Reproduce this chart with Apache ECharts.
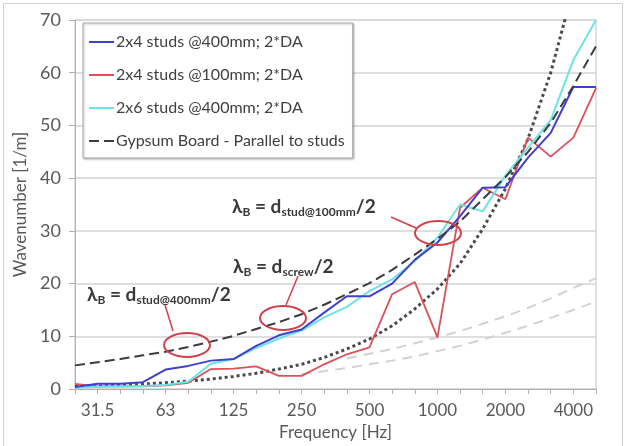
<!DOCTYPE html>
<html>
<head>
<meta charset="utf-8">
<script src="https://cdn.jsdelivr.net/npm/echarts@6/dist/echarts.min.js"></script>
<style>
  html, body { margin: 0; padding: 0; background: #fff; }
  #chart { width: 627px; height: 446px; }
</style>
</head>
<body>
<div id="chart"></div>
<script>
// 1/3 octave bands
var freqs = ['25', '31.5', '40', '50', '63', '80', '100', '125', '160', '200', '250', '315',
  '400', '500', '630', '800', '1000', '1250', '1600', '2000', '2500', '3150', '4000', '5000']
var yTicks = [0, 10, 20, 30, 40, 50, 60, 70]

var studs2x4At400 = [0.4, 1.0, 1.0, 1.3, 3.7, 4.4, 5.4, 5.7, 8.2, 10.2, 11.3, 14.5,
  17.6, 17.6, 20.0, 24.5, 27.8, 32.8, 38.2, 38.3, 43.9, 48.6, 57.3, 57.3]
var studs2x4At100 = [1.0, 0.5, 0.5, 0.5, 0.7, 1.2, 3.8, 3.9, 4.3, 2.5, 2.5, 4.7,
  6.6, 7.9, 18.0, 20.3, 9.8, 34.4, 38.2, 36.0, 47.7, 44.1, 47.7, 57.1]
var studs2x6At400 = [0.3, 0.4, 0.5, 0.6, 0.8, 1.4, 4.8, 5.7, 7.8, 9.6, 11.1, 13.6,
  15.6, 18.6, 20.8, 24.3, 28.7, 35.0, 33.7, 40.5, 45.8, 51.0, 62.4, 70.0]
var gypsumParallel = [4.5, 5.1, 5.7, 6.4, 7.1, 8.0, 9.0, 10.1, 11.4, 12.7, 14.2, 16.0,
  18.0, 20.1, 22.6, 25.5, 28.5, 31.8, 36.0, 40.2, 45.0, 50.5, 57.5, 65.0]
var screwLine = [0.5, 0.6, 0.75, 0.95, 1.2, 1.5, 1.9, 2.4, 3.0, 3.8, 4.7, 6.0,
  7.6, 9.5, 12.0, 15.2, 19.0, 23.8, 30.4, 38.0, 47.5, 60.0, 76.0, 95.0]
var grayUpper = [null, null, null, null, null, null, null, null, null, null, null, null,
  5.8, 6.7, 7.6, 8.7, 9.8, 11.0, 12.4, 13.8, 15.4, 17.2, 19.2, 21.0]
var grayLower = [null, null, null, null, null, null, null, null, null, null, 2.8, 3.4,
  4.0, 4.7, 5.4, 6.2, 7.2, 8.2, 9.4, 10.7, 12.0, 13.5, 15.0, 16.6]

var labelFreqs = ['31.5', '63', '125', '250', '500', '1000', '2000', '4000']

var font = 'Lato, "Open Sans", sans-serif'
var annRed = '#d0404a'
var annRich = {
  m: { fontSize: 19, fontWeight: 'bold', fontFamily: font, fill: '#3a3a3a', lineHeight: 22 },
  s: { fontSize: 12, fontWeight: 'bold', fontFamily: font, fill: '#3a3a3a', lineHeight: 12, verticalAlign: 'bottom' }
}

function annText(x, y, sub) {
  return {
    type: 'text',
    x: x,
    y: y,
    z: 100,
    style: {
      text: '{m|λ}{s|B}{m| = d}{s|' + sub + '}{m|/2}',
      rich: annRich,
      verticalAlign: 'middle'
    }
  }
}

function ellipse(cx, cy) {
  return {
    type: 'ellipse',
    z: 100,
    shape: { cx: cx, cy: cy, rx: 23, ry: 12 },
    style: { fill: 'none', stroke: annRed, lineWidth: 2 }
  }
}

function pointer(x1, y1, x2, y2) {
  return {
    type: 'line',
    z: 100,
    shape: { x1: x1, y1: y1, x2: x2, y2: y2 },
    style: { stroke: annRed, lineWidth: 1.5 }
  }
}

function lineSeries(name, data, color, width, type) {
  return {
    name: name,
    type: 'line',
    data: data,
    symbol: 'none',
    smooth: false,
    clip: true,
    lineStyle: { color: color, width: width, type: type || 'solid' },
    itemStyle: { color: color },
    animation: false
  }
}

var chart = echarts.init(document.getElementById('chart'))
chart.setOption({
  backgroundColor: '#fff',
  textStyle: { fontFamily: font },
  grid: {
    left: 75,
    right: 31,
    top: 20,
    bottom: 56,
    show: true,
    borderColor: '#c4c4c4',
    borderWidth: 1
  },
  legend: {
    orient: 'vertical',
    left: 83,
    top: 23,
    padding: [10, 8, 8, 5],
    itemGap: 15,
    itemWidth: 25,
    itemHeight: 14,
    backgroundColor: '#fff',
    borderColor: '#a8a8a8',
    borderWidth: 1,
    shadowColor: 'rgba(0,0,0,0.25)',
    shadowBlur: 2,
    shadowOffsetX: 1,
    shadowOffsetY: 1,
    itemStyle: { opacity: 0 },
    textStyle: { fontSize: 16, color: '#404040', fontFamily: font, lineHeight: 18, padding: [0, 0, 0, -3] },
    data: ['2x4 studs @400mm; 2*DA', '2x4 studs @100mm; 2*DA', '2x6 studs @400mm; 2*DA',
      'Gypsum Board - Parallel to studs']
  },
  xAxis: {
    type: 'category',
    data: freqs,
    boundaryGap: false,
    name: 'Frequency [Hz]',
    nameLocation: 'middle',
    nameGap: 32,
    nameTextStyle: { fontSize: 17, color: '#595959', fontFamily: font },
    axisLine: { lineStyle: { color: '#b0b0b0', width: 1 } },
    axisTick: { show: true, interval: 0, length: 5, lineStyle: { color: '#b0b0b0' } },
    axisLabel: {
      interval: function(index, value) { return labelFreqs.indexOf(value) >= 0 },
      fontSize: 17,
      color: '#595959',
      margin: 13
    },
    splitLine: { show: false }
  },
  yAxis: {
    type: 'value',
    min: yTicks[0],
    max: yTicks[yTicks.length - 1],
    interval: 10,
    name: 'Wavenumber [1/m]',
    nameLocation: 'middle',
    nameGap: 42,
    nameTextStyle: { fontSize: 17, color: '#595959', fontFamily: font },
    axisLine: { show: true, lineStyle: { color: '#b0b0b0', width: 1 } },
    axisTick: { show: true, length: 6, lineStyle: { color: '#b0b0b0' } },
    axisLabel: { fontSize: 18, color: '#595959', margin: 14 },
    splitLine: { lineStyle: { color: '#d4d4d4', width: 1.5 } }
  },
  series: [
    lineSeries('grayUpper', grayUpper, '#d2d2d2', 2, [10, 7]),
    lineSeries('grayLower', grayLower, '#d2d2d2', 2, [10, 7]),
    lineSeries('screw', screwLine, '#4a4a4a', 3, [3, 3]),
    lineSeries('2x4 studs @100mm; 2*DA', studs2x4At100, '#dc5058', 1.8),
    lineSeries('2x6 studs @400mm; 2*DA', studs2x6At400, '#6ce4e4', 2),
    lineSeries('2x4 studs @400mm; 2*DA', studs2x4At400, '#4040d0', 2),
    lineSeries('Gypsum Board - Parallel to studs', gypsumParallel, '#3c3c3c', 2, [10, 5])
  ],
  graphic: [
    {
      type: 'rect',
      z: -10,
      silent: true,
      shape: { x: 3.5, y: 3.5, width: 619, height: 460 },
      style: { fill: 'none', stroke: '#d0d0d0', lineWidth: 1 }
    },
    annText(232, 207, 'stud@100mm'),
    annText(233, 267, 'screw'),
    annText(87, 295, 'stud@400mm'),
    ellipse(187, 345),
    ellipse(283, 318),
    ellipse(438, 233),
    pointer(165, 305, 173, 331),
    pointer(298, 276, 286, 305),
    pointer(391, 217, 416, 228)
  ]
})
</script>
</body>
</html>
